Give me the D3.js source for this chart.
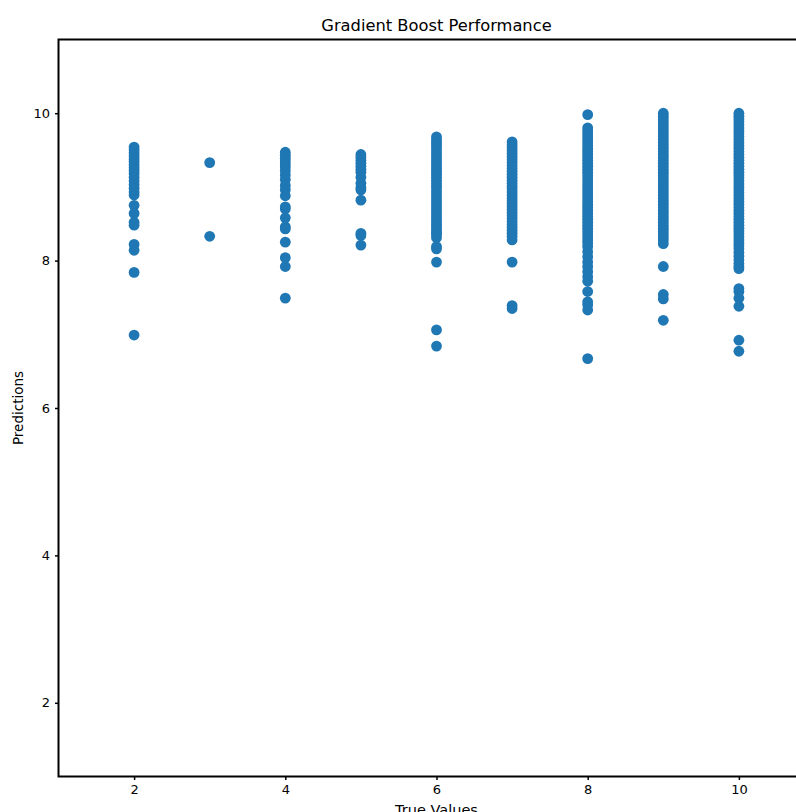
<!DOCTYPE html>
<html>
<head>
<meta charset="utf-8">
<script src="https://cdn.jsdelivr.net/npm/d3@7"></script>
<style>
  html, body { margin: 0; padding: 0; background: #fff; }
  svg { display: block; }
  text { font-family: "DejaVu Sans", sans-serif; fill: #000; }
</style>
</head>
<body>
<svg id="chart" width="796" height="812"></svg>
<script>
// ---- Data ----
const titleText = "Gradient Boost Performance";
const xLabel = "True Values";
const yLabel = "Predictions";
const xTicks = [2, 4, 6, 8, 10];
const yTicks = [2, 4, 6, 8, 10];

const pred2 = [9.54, 9.50, 9.46, 9.42, 9.38, 9.34, 9.30, 9.26, 9.22, 9.18, 9.13, 9.08, 9.03, 8.98, 8.93, 8.89, 8.75, 8.64, 8.52, 8.48, 8.22, 8.14, 7.84, 6.99];
const pred3 = [9.33, 8.33];
const pred4 = [9.47, 9.43, 9.39, 9.35, 9.31, 9.27, 9.22, 9.16, 9.10, 9.02, 8.96, 8.88, 8.73, 8.70, 8.58, 8.46, 8.43, 8.25, 8.04, 7.92, 7.49];
const pred5 = [9.44, 9.40, 9.36, 9.32, 9.28, 9.24, 9.20, 9.13, 9.05, 8.99, 8.96, 8.82, 8.37, 8.34, 8.21];
const pred6 = [9.68, 9.64, 9.60, 9.57, 9.53, 9.49, 9.45, 9.41, 9.37, 9.33, 9.29, 9.25, 9.21, 9.17, 9.13, 9.09, 9.05, 9.01, 8.97, 8.93, 8.89, 8.85, 8.81, 8.77, 8.73, 8.69, 8.65, 8.61, 8.57, 8.53, 8.49, 8.45, 8.41, 8.38, 8.35, 8.31, 8.19, 8.16, 7.98, 7.06, 6.84];
const pred7 = [9.61, 9.57, 9.53, 9.49, 9.45, 9.41, 9.37, 9.33, 9.29, 9.25, 9.21, 9.17, 9.13, 9.09, 9.05, 9.01, 8.97, 8.93, 8.89, 8.85, 8.81, 8.77, 8.73, 8.69, 8.65, 8.61, 8.57, 8.53, 8.49, 8.45, 8.41, 8.37, 8.33, 8.28, 7.98, 7.39, 7.35];
const pred8 = [9.98, 9.80, 9.76, 9.72, 9.68, 9.64, 9.60, 9.56, 9.52, 9.48, 9.44, 9.40, 9.36, 9.32, 9.28, 9.24, 9.20, 9.16, 9.12, 9.08, 9.04, 9.00, 8.96, 8.92, 8.88, 8.84, 8.80, 8.76, 8.72, 8.68, 8.64, 8.60, 8.56, 8.52, 8.48, 8.44, 8.40, 8.36, 8.32, 8.28, 8.24, 8.19, 8.12, 8.05, 7.98, 7.92, 7.85, 7.78, 7.72, 7.58, 7.44, 7.40, 7.33, 6.67];
const pred9 = [10.00, 9.96, 9.92, 9.88, 9.84, 9.80, 9.76, 9.72, 9.68, 9.64, 9.60, 9.56, 9.52, 9.48, 9.44, 9.40, 9.36, 9.32, 9.28, 9.24, 9.20, 9.16, 9.12, 9.08, 9.04, 9.00, 8.96, 8.92, 8.88, 8.84, 8.80, 8.76, 8.72, 8.68, 8.64, 8.60, 8.56, 8.52, 8.48, 8.44, 8.40, 8.36, 8.32, 8.28, 8.23, 7.92, 7.54, 7.48, 7.19];
const pred10 = [10.00, 9.96, 9.92, 9.88, 9.84, 9.80, 9.76, 9.72, 9.68, 9.64, 9.60, 9.56, 9.52, 9.48, 9.44, 9.40, 9.36, 9.32, 9.28, 9.24, 9.20, 9.16, 9.12, 9.08, 9.04, 9.00, 8.96, 8.92, 8.88, 8.84, 8.80, 8.76, 8.72, 8.68, 8.64, 8.60, 8.56, 8.52, 8.48, 8.44, 8.40, 8.36, 8.32, 8.28, 8.24, 8.20, 8.16, 8.11, 8.06, 8.01, 7.96, 7.92, 7.89, 7.62, 7.58, 7.49, 7.38, 6.92, 6.77];

const trueValues = [2, 3, 4, 5, 6, 7, 8, 9, 10];
const predictionSets = [pred2, pred3, pred4, pred5, pred6, pred7, pred8, pred9, pred10];

// Build point table from arrays
const points = [];
trueValues.forEach((t, i) => predictionSets[i].forEach(p => points.push({ x: t, y: p })));

// ---- Layout ----
const margin = { left: 58.5, top: 39.5 };
const plotW = 756;   // extends past the right edge of the window like the reference
const plotH = 737;
const color = "#1f77b4";

const svg = d3.select("#chart");

const x = d3.scaleLinear().domain([1, 11]).range([margin.left, margin.left + plotW]);
const y = d3.scaleLinear().domain([1, 11]).range([margin.top + plotH, margin.top]);

// Points
svg.append("g")
  .selectAll("circle")
  .data(points)
  .enter().append("circle")
  .attr("cx", d => x(d.x))
  .attr("cy", d => y(d.y))
  .attr("r", 5.4)
  .attr("fill", color);

// Axes
const xAxis = d3.axisBottom(x).tickValues(xTicks).tickSize(3.5).tickPadding(5).tickFormat(d3.format("d"));
const yAxis = d3.axisLeft(y).tickValues(yTicks).tickSize(3.5).tickPadding(5).tickFormat(d3.format("d"));

const gx = svg.append("g").attr("transform", `translate(0,${margin.top + plotH})`).call(xAxis);
const gy = svg.append("g").attr("transform", `translate(${margin.left},0)`).call(yAxis);
[gx, gy].forEach(g => {
  g.select(".domain").remove();
  g.selectAll(".tick line").attr("stroke", "#000").attr("stroke-width", 1.5);
  g.selectAll(".tick text").style("font-size", "13px").style("font-family", "DejaVu Sans");
});

// Spines (frame)
svg.append("rect")
  .attr("x", margin.left).attr("y", margin.top)
  .attr("width", plotW).attr("height", plotH)
  .attr("fill", "none").attr("stroke", "#000").attr("stroke-width", 2);

// Title & labels
svg.append("text")
  .attr("x", x(6)).attr("y", 31)
  .attr("text-anchor", "middle")
  .style("font-size", "16.3px")
  .text(titleText);

svg.append("text")
  .attr("x", x(6)).attr("y", 815)
  .attr("text-anchor", "middle")
  .style("font-size", "14.5px")
  .text(xLabel);

svg.append("text")
  .attr("transform", `translate(23,${y(6)}) rotate(-90)`)
  .attr("text-anchor", "middle")
  .style("font-size", "13.5px")
  .text(yLabel);
</script>
</body>
</html>
